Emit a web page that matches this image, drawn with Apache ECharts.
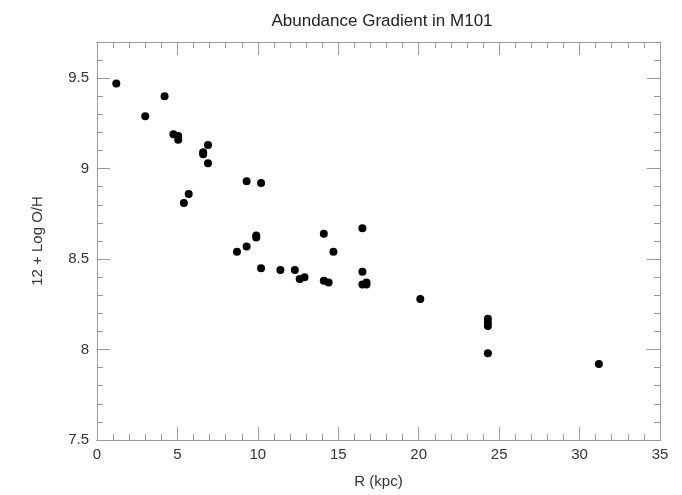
<!DOCTYPE html>
<html>
<head>
<meta charset="utf-8">
<script src="https://cdn.jsdelivr.net/npm/echarts@6/dist/echarts.min.js"></script>
<style>html,body{margin:0;padding:0;background:#fff;}#c{width:682px;height:495px;}</style>
</head>
<body>
<div id="c"></div>
<script>
// Galactocentric radius R (kpc)
const radius = [1.2, 3.0, 4.2, 4.75, 5.05, 5.05, 6.9, 6.6, 6.6, 6.9, 9.3, 10.2, 5.7, 5.4,
  8.7, 9.3, 9.9, 9.9, 10.2, 11.4, 12.3, 12.6, 12.9, 14.1, 14.1, 14.4, 14.7,
  16.5, 16.5, 16.5, 16.75, 16.75, 20.1, 24.3, 24.3, 24.3, 24.3, 31.2];
// 12 + log(O/H)
const abundance = [9.47, 9.29, 9.40, 9.19, 9.18, 9.16, 9.13, 9.09, 9.08, 9.03, 8.93, 8.92, 8.86, 8.81,
  8.54, 8.57, 8.63, 8.62, 8.45, 8.44, 8.44, 8.39, 8.40, 8.64, 8.38, 8.37, 8.54,
  8.67, 8.43, 8.36, 8.36, 8.37, 8.28, 8.17, 8.15, 8.13, 7.98, 7.92];

const xMin = 0, xMax = 35, xMajor = 5, xMinor = 1;
const yMin = 7.5, yMax = 9.7, yMajor = 0.5, yMinor = 0.1;

const points = radius.map((r, i) => [r, abundance[i]]);

const lineColor = '#9a9a9a';
const labelColor = '#333';
const fontFam = '"Liberation Sans", Arial, sans-serif';

function xAx(grid, pos, major, labels) {
  return {
    type: 'value', gridIndex: grid, position: pos, min: xMin, max: xMax,
    interval: major ? xMajor : xMinor,
    axisLine: { show: true, onZero: false, lineStyle: { color: lineColor, width: 1 } },
    axisTick: { show: true, inside: true, length: major ? 13 : 6, lineStyle: { color: lineColor } },
    axisLabel: labels ? { show: true, color: labelColor, fontSize: 15, fontFamily: fontFam, margin: 7 } : { show: false },
    splitLine: { show: false },
    name: labels ? 'R (kpc)' : '',
    nameLocation: 'middle', nameGap: 34,
    nameTextStyle: { color: labelColor, fontSize: 15, fontFamily: fontFam }
  };
}
function yAx(grid, pos, major, labels) {
  return {
    type: 'value', gridIndex: grid, position: pos, min: yMin, max: yMax,
    interval: major ? yMajor : yMinor,
    axisLine: { show: true, onZero: false, lineStyle: { color: lineColor, width: 1 } },
    axisTick: { show: true, inside: true, length: major ? 13 : 6, lineStyle: { color: lineColor } },
    axisLabel: labels ? { show: true, color: labelColor, fontSize: 15, fontFamily: fontFam, margin: 8, showMaxLabel: false } : { show: false },
    splitLine: { show: false },
    name: labels ? '12 + Log O/H' : '',
    nameLocation: 'middle', nameGap: 52, nameRotate: 90,
    nameTextStyle: { color: labelColor, fontSize: 15, fontFamily: fontFam }
  };
}

const gridBox = { left: 97, right: 22, top: 42, bottom: 55, containLabel: false };

const chart = echarts.init(document.getElementById('c'), null, { renderer: 'canvas' });
chart.setOption({
  backgroundColor: '#fff',
  animation: false,
  title: {
    text: 'Abundance Gradient in M101',
    left: 377, top: 8, textAlign: 'center',
    textStyle: { color: '#222', fontSize: 17, fontWeight: 'normal', fontFamily: fontFam }
  },
  grid: [Object.assign({}, gridBox), Object.assign({}, gridBox), Object.assign({}, gridBox), Object.assign({}, gridBox)],
  xAxis: [xAx(0, 'bottom', true, true), xAx(1, 'bottom', false, false), xAx(2, 'top', true, false), xAx(3, 'top', false, false)],
  yAxis: [yAx(0, 'left', true, true), yAx(1, 'left', false, false), yAx(2, 'right', true, false), yAx(3, 'right', false, false)],
  series: [{
    type: 'scatter', xAxisIndex: 0, yAxisIndex: 0,
    data: points, symbol: 'circle', symbolSize: 8,
    itemStyle: { color: '#000', opacity: 1 }
  }]
});
</script>
</body>
</html>
